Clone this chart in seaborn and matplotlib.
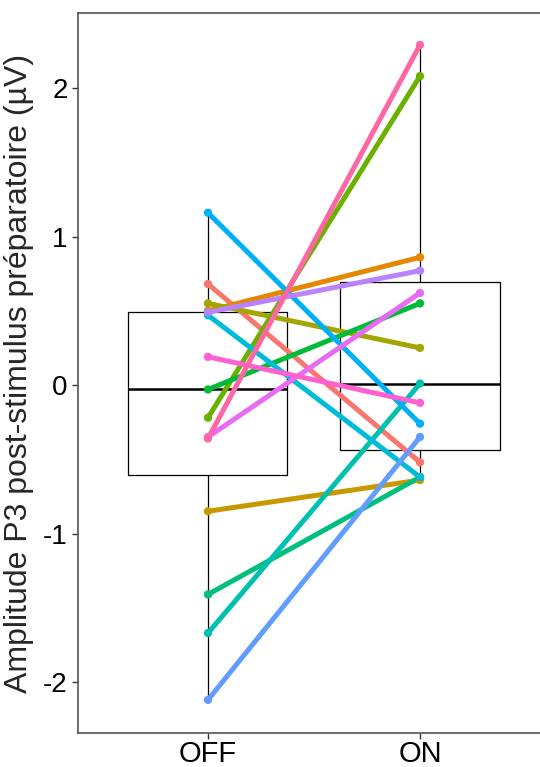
import pandas as pd
import matplotlib
matplotlib.use('Agg')
import matplotlib.pyplot as plt
import seaborn as sns

# donnees (un sujet = une ligne)
sujets = ['S01', 'S02', 'S03', 'S04', 'S05', 'S06', 'S07', 'S08',
          'S09', 'S10', 'S11', 'S12', 'S13', 'S14', 'S15']
off_vals = [0.68, 0.50, -0.85, 0.55, -0.22, -0.03, -1.41, -1.67,
            0.47, 1.16, -2.12, 0.49, -0.35, 0.19, -0.36]
on_vals = [-0.52, 0.86, -0.64, 0.25, 2.08, 0.55, -0.62, 0.01,
           -0.62, -0.26, -0.35, 0.77, 0.62, -0.12, 2.29]
conditions = ['OFF', 'ON']
couleurs = ['#F8766D', '#E58700', '#C99800', '#A3A500', '#6BB100',
            '#00BA38', '#00BF7D', '#00C0AF', '#00BCD8', '#00B0F6',
            '#619CFF', '#B983FF', '#E76BF3', '#FD61D1', '#FF67A4']

df = pd.DataFrame({
    'sujet': sujets * 2,
    'condition': ['OFF'] * len(sujets) + ['ON'] * len(sujets),
    'amplitude': off_vals + on_vals,
})
df['pos'] = df['condition'].map({c: i for i, c in enumerate(conditions)})

sns.set_style('white')
plt.rcParams['font.family'] = ['Liberation Sans', 'DejaVu Sans']

fig = plt.figure(figsize=(5.4, 7.67), dpi=100)
ax = fig.add_axes([78 / 540, 34 / 767, 1 - 78 / 540, (733 - 13) / 767])

sns.boxplot(data=df, x='condition', y='amplitude', order=conditions,
            width=0.75, color='white', linecolor='black', linewidth=0.9,
            showcaps=False, showfliers=False,
            medianprops={'linewidth': 1.8}, ax=ax, zorder=1)

sns.lineplot(data=df, x='pos', y='amplitude', hue='sujet', palette=couleurs,
             estimator=None, linewidth=3.6, legend=False, ax=ax, zorder=3)
sns.scatterplot(data=df, x='pos', y='amplitude', hue='sujet', palette=couleurs,
                s=36, linewidth=0, legend=False, ax=ax, zorder=4)

ax.set_xlim(-0.613, 1.566)
ax.set_ylim(-2.343, 2.505)
ax.set_xticks([0, 1])
ax.set_xticklabels(conditions)
ax.set_yticks([-2, -1, 0, 1, 2])
ax.set_yticklabels(['-2', '-1', '0', '1', '2'])
ax.set_xlabel('')
ax.set_ylabel('Amplitude P3 post-stimulus préparatoire (µV)', fontsize=23, labelpad=6)
ax.tick_params(axis='both', labelsize=20, length=4, width=1, color='#333333',
               labelcolor='black', direction='out', left=True, bottom=True)
ax.tick_params(axis='x', labelsize=21, pad=1)

for s in ['left', 'bottom', 'top']:
    ax.spines[s].set_color('#555555')
    ax.spines[s].set_linewidth(1.2)
ax.spines['right'].set_visible(False)

plt.savefig('out.png', dpi=100)
